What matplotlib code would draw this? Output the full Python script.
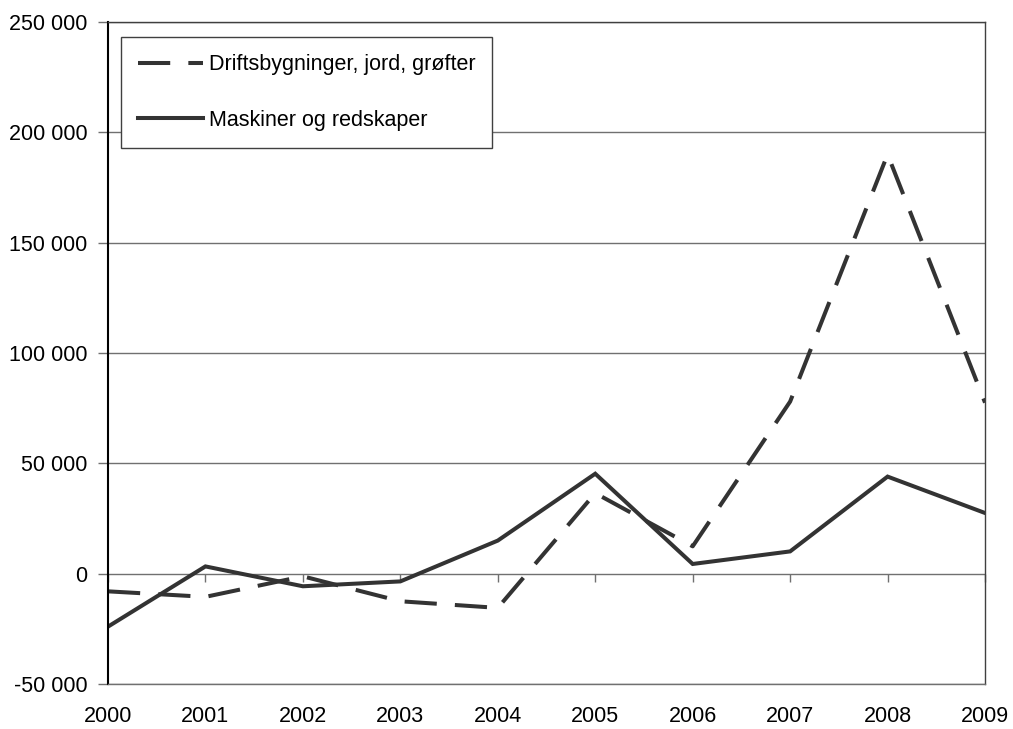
import matplotlib
matplotlib.use("Agg")
import matplotlib.pyplot as plt
from matplotlib.ticker import FuncFormatter

# Data
years = [2000, 2001, 2002, 2003, 2004, 2005, 2006, 2007, 2008, 2009]
drift = [-8000, -10500, -1200, -12500, -15500, 36500, 12400, 78000, 190000, 77500]
maskiner = [-24000, 3300, -5700, -3500, 15000, 45300, 4400, 10100, 44000, 27500]

label_drift = "Driftsbygninger, jord, grøfter"
label_mask = "Maskiner og redskaper"

plt.rcParams["font.family"] = ["Liberation Sans", "DejaVu Sans"]
LINE_C = "#333333"
GRID_C = "#707070"
FS = 15.5

fig = plt.figure(figsize=(10.13, 7.29), dpi=100)
ax = fig.add_axes([0.1066, 0.0617, 0.8658, 0.9081])

ax.plot(years, drift, color=LINE_C, lw=2.9, linestyle=(0, (8, 4.5)),
        solid_joinstyle="miter", label=label_drift)
ax.plot(years, maskiner, color=LINE_C, lw=2.9, solid_joinstyle="miter",
        label=label_mask)

ymin, ymax = -50000, 250000
ax.set_xlim(years[0], years[-1])
ax.set_ylim(ymin, ymax)
ax.set_yticks(range(ymin, ymax + 1, 50000))
ax.yaxis.set_major_formatter(FuncFormatter(lambda v, p: f"{int(v):,}".replace(",", " ")))
ax.set_xticks(years)
ax.set_xticklabels([str(y) for y in years])

ax.grid(True, axis="y", color=GRID_C, lw=1)
ax.set_axisbelow(True)
ax.tick_params(axis="y", direction="out", length=7, width=1, color=GRID_C,
               labelsize=FS, pad=8)
ax.tick_params(axis="x", length=0, labelsize=FS, pad=16)

for side in ["top", "right"]:
    ax.spines[side].set_color("#404040")
    ax.spines[side].set_linewidth(1)
ax.spines["bottom"].set_color(GRID_C)
ax.spines["bottom"].set_linewidth(1)
ax.spines["left"].set_color("black")
ax.spines["left"].set_linewidth(1.5)

# Category axis crossing at zero, with tick marks
zero_pos = (0 - ymin) / (ymax - ymin)
sec = ax.secondary_xaxis(zero_pos)
sec.set_xticks(years)
sec.xaxis.set_ticks_position("bottom")
sec.tick_params(direction="out", length=6, width=1, labelbottom=False,
                labeltop=False, color=GRID_C)
sec.spines["bottom"].set_visible(False)
sec.spines["top"].set_color(GRID_C)
sec.spines["top"].set_linewidth(1)
sec.set_xticklabels([])

leg = ax.legend(loc="upper left", bbox_to_anchor=(0.0148, 0.977),
                borderaxespad=0, fontsize=FS, handlelength=3.0,
                handletextpad=0.27, labelspacing=1.6, borderpad=0.8,
                fancybox=False, framealpha=1, edgecolor="#404040")
leg.get_frame().set_linewidth(1)

fig.savefig("out.png", dpi=100)
